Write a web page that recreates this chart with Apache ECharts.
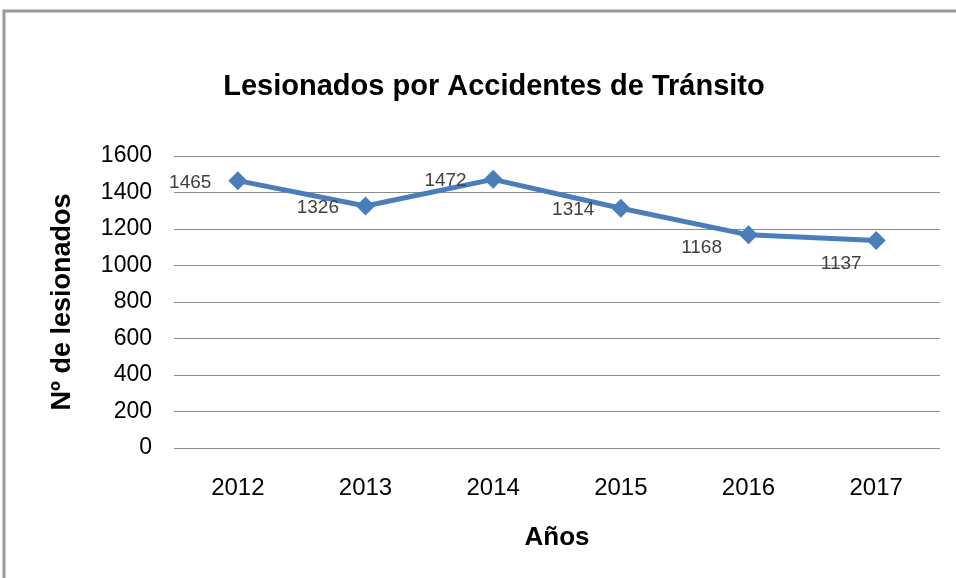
<!DOCTYPE html>
<html>
<head>
<meta charset="utf-8">
<script src="https://cdn.jsdelivr.net/npm/echarts@6/dist/echarts.min.js"></script>
<style>
  html, body { margin: 0; padding: 0; background: #fff; }
  #chart { width: 956px; height: 578px; }
</style>
</head>
<body>
<div id="chart"></div>
<script>
const years = ['2012', '2013', '2014', '2015', '2016', '2017']
const injured = [1465, 1326, 1472, 1314, 1168, 1137]
const yTicks = [0, 200, 400, 600, 800, 1000, 1200, 1400, 1600]

// label nudges (px) per point, to mimic the original placement
const labelOffsets = [[0, 2], [0, 2], [0, 1], [0, 2], [0, 13], [12, 23]]

const FONT = '"Liberation Sans", Arial, sans-serif'

const chart = echarts.init(document.getElementById('chart'), null, { renderer: 'canvas' })

chart.setOption({
  animation: false,
  backgroundColor: '#fff',
  textStyle: { fontFamily: FONT },
  graphic: [{
    type: 'rect',
    shape: { x: 4, y: 11, width: 1200, height: 1000 },
    style: { fill: 'none', stroke: '#9a9a9a', lineWidth: 3 },
    silent: true,
  }],
  title: {
    text: 'Lesionados por Accidentes de Tránsito',
    left: 489,
    textAlign: 'center',
    top: 67,
    textStyle: { fontFamily: FONT, fontSize: 29, fontWeight: 'bold', color: '#000' },
  },
  grid: { left: 174, right: 16, top: 156, bottom: 130, containLabel: false },
  xAxis: {
    type: 'category',
    data: years,
    boundaryGap: true,
    name: 'Años',
    nameLocation: 'middle',
    nameGap: 77,
    nameTextStyle: { fontFamily: FONT, fontSize: 26, fontWeight: 'bold', color: '#000' },
    axisLine: { show: false },
    axisTick: { show: false },
    axisLabel: { color: '#000', fontSize: 24, margin: 28, fontFamily: FONT },
  },
  yAxis: {
    type: 'value',
    min: yTicks[0],
    max: yTicks[yTicks.length - 1],
    interval: 200,
    name: 'Nº de lesionados',
    nameLocation: 'middle',
    nameGap: 98,
    nameRotate: 90,
    nameTextStyle: { fontFamily: FONT, fontSize: 27, fontWeight: 'bold', color: '#000' },
    axisLine: { show: false },
    axisTick: { show: false },
    axisLabel: { color: '#000', fontSize: 23, margin: 22, fontFamily: FONT, formatter: v => String(v) },
    splitLine: { lineStyle: { color: '#8c8c8c', width: 1 } },
  },
  series: [{
    type: 'line',
    data: injured.map((v, i) => ({
      value: v,
      label: { offset: labelOffsets[i] },
    })),
    symbol: 'diamond',
    symbolSize: 19,
    lineStyle: { color: '#4a7ebb', width: 5 },
    itemStyle: { color: '#4a7ebb' },
    label: {
      show: true,
      position: 'left',
      distance: 17,
      color: '#404040',
      fontSize: 19,
      fontFamily: FONT,
    },
  }],
})
</script>
</body>
</html>
